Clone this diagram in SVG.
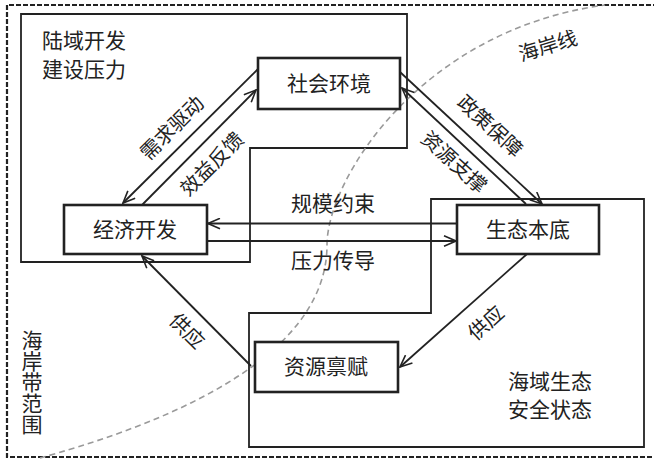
<svg xmlns="http://www.w3.org/2000/svg" width="654" height="459" viewBox="0 0 654 459">
<style>
text{font-family:"Noto Sans CJK SC","Noto Sans",sans-serif;fill:#222;font-size:21px}
.lbl{font-size:20px}
.node rect{fill:#fff;stroke:#222;stroke-width:2.6}
.region{fill:none;stroke:#222;stroke-width:1.8}
.con line{stroke:#222;stroke-width:1.8;fill:none}
</style>
<defs>
<marker id="arr" viewBox="0 0 14 12" refX="13" refY="6" markerWidth="14" markerHeight="12" markerUnits="userSpaceOnUse" orient="auto">
<path d="M1,0.8 L13,6 L1,11.2" fill="none" stroke="#222" stroke-width="1.6"/>
</marker>
</defs>
<rect width="654" height="459" fill="#fff"/>
<g id="coastal-zone">
<path d="M658,5 H7 V457 H658" fill="none" stroke="#222" stroke-width="2.2" stroke-dasharray="5,2"/>
<text x="32" y="330" writing-mode="vertical-rl">海岸带范围</text>
</g>
<g id="land-region">
<path class="region" d="M21,14 H407 V148 H250 V262 H21 Z"/>
<text x="42" y="48">陆域开发</text>
<text x="42" y="77">建设压力</text>
</g>
<g id="sea-region">
<path class="region" d="M431,199 H644 V447 H249 V313 H431 Z"/>
<text x="550" y="389" text-anchor="middle">海域生态</text>
<text x="550" y="417" text-anchor="middle">安全状态</text>
</g>
<g id="coastline">
<path d="M40,458 C130,433 327,370 327,245 C327,180 420,30 605,5" fill="none" stroke="#9a9a9a" stroke-width="1.6" stroke-dasharray="6,4"/>
<text class="lbl" transform="translate(548,46) rotate(-17)" x="0" y="7" text-anchor="middle">海岸线</text>
</g>
<g id="connectors" class="con">
<line x1="258" y1="69" x2="123" y2="203" marker-end="url(#arr)"/>
<line x1="142" y1="205" x2="256" y2="90" marker-end="url(#arr)"/>
<line x1="400" y1="72" x2="542" y2="204" marker-end="url(#arr)"/>
<line x1="526" y1="204" x2="402" y2="88" marker-end="url(#arr)"/>
<line x1="457" y1="223.5" x2="208" y2="223.5" marker-end="url(#arr)"/>
<line x1="207" y1="241" x2="456" y2="241" marker-end="url(#arr)"/>
<line x1="251" y1="366" x2="142" y2="256" marker-end="url(#arr)"/>
<line x1="527" y1="254" x2="400" y2="367" marker-end="url(#arr)"/>
</g>
<g id="connector-labels">
<text class="lbl" transform="translate(172,128) rotate(-45)" x="0" y="7" text-anchor="middle">需求驱动</text>
<text class="lbl" transform="translate(212,164) rotate(-45)" x="0" y="7" text-anchor="middle">效益反馈</text>
<text class="lbl" transform="translate(490,126) rotate(42.5)" x="0" y="7" text-anchor="middle">政策保障</text>
<text class="lbl" transform="translate(454,162) rotate(42.5)" x="0" y="7" text-anchor="middle">资源支撑</text>
<text x="333" y="211" text-anchor="middle">规模约束</text>
<text x="333" y="268" text-anchor="middle">压力传导</text>
<text class="lbl" transform="translate(187,331) rotate(45)" x="0" y="7" text-anchor="middle">供应</text>
<text class="lbl" transform="translate(486,323) rotate(-42)" x="0" y="7" text-anchor="middle">供应</text>
</g>
<g id="node-social" class="node">
<rect x="258" y="58" width="142" height="51"/>
<text x="329" y="91" text-anchor="middle">社会环境</text>
</g>
<g id="node-economy" class="node">
<rect x="64" y="205" width="143" height="49"/>
<text x="135" y="237" text-anchor="middle">经济开发</text>
</g>
<g id="node-ecology" class="node">
<rect x="457" y="205" width="142" height="49"/>
<text x="528" y="237" text-anchor="middle">生态本底</text>
</g>
<g id="node-resource" class="node">
<rect x="255" y="342" width="143" height="50"/>
<text x="326" y="374" text-anchor="middle">资源禀赋</text>
</g>
</svg>
